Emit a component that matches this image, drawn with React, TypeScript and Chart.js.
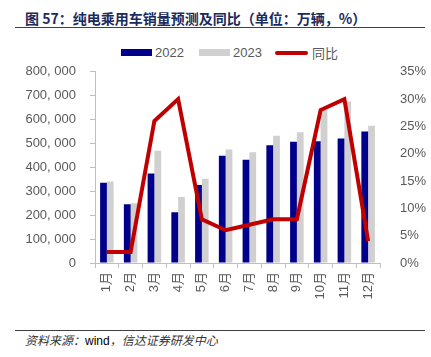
import React, { useEffect, useRef } from "react";
import { Chart, registerables } from "chart.js";

Chart.register(...registerables);

const months = ["1月", "2月", "3月", "4月", "5月", "6月", "7月", "8月", "9月", "10月", "11月", "12月"];
const sales2022 = [336000, 246000, 374000, 212000, 326000, 449000, 432000, 493000, 507000, 509000, 521000, 550000];
const sales2023 = [341000, 250000, 470000, 276000, 353000, 475000, 463000, 532000, 547000, 642000, 676000, 574000];
const yoy = [2, 2, 26, 30, 8, 6, 7, 8, 8, 28, 30, 4];

const titleText = "图 57：纯电乘用车销量预测及同比（单位：万辆，%）";
const sourcePrefix = "资料来源：";
const sourceWind = "wind";
const sourceSuffix = "，信达证券研发中心";

const BLUE = "#00008b";
const GRAY = "#d0d0d0";
const RED = "#c00000";
const LABEL = "#595959";
const AXIS = "#bfbfbf";
const FONT = 'Liberation Sans, Arial, "Noto Sans CJK SC", sans-serif';

function fmtThousands(v: number): string {
  if (v === 0) return "0";
  const th = Math.floor(v / 1000);
  const rest = String(Math.round(v % 1000)).padStart(3, "0");
  return `${th}, ${rest}`;
}

export default function App() {
  const ref = useRef<HTMLCanvasElement | null>(null);

  useEffect(() => {
    document.body.style.margin = "0";
    if (!ref.current) return;
    const chart = new Chart(ref.current, {
      type: "bar",
      data: {
        labels: months,
        datasets: [
          {
            type: "line",
            label: "同比",
            data: yoy,
            yAxisID: "y1",
            borderColor: RED,
            backgroundColor: RED,
            borderWidth: 4,
            pointRadius: 0,
            tension: 0,
            order: 0,
          } as any,
          {
            type: "bar",
            label: "2022",
            data: sales2022,
            yAxisID: "y",
            backgroundColor: BLUE,
            categoryPercentage: 0.57,
            barPercentage: 1,
            order: 1,
          },
          {
            type: "bar",
            label: "2023",
            data: sales2023,
            yAxisID: "y",
            backgroundColor: GRAY,
            categoryPercentage: 0.57,
            barPercentage: 1,
            order: 1,
          },
        ],
      },
      options: {
        animation: false,
        responsive: false,
        maintainAspectRatio: false,
        layout: { padding: { top: 11, left: 0, right: 0, bottom: 0 } },
        plugins: {
          legend: { display: false },
          tooltip: { enabled: false },
        },
        scales: {
          x: {
            offset: true,
            grid: {
              offset: true,
              drawOnChartArea: false,
              drawTicks: true,
              tickLength: 5,
              color: AXIS,
            },
            border: { display: true, color: AXIS },
            ticks: {
              minRotation: 90,
              maxRotation: 90,
              padding: 4,
              color: LABEL,
              font: { family: FONT, size: 13 },
              autoSkip: false,
            },
            afterFit: (scale: any) => {
              scale.height = 47;
            },
          },
          y: {
            position: "left",
            min: 0,
            max: 800000,
            ticks: {
              stepSize: 100000,
              padding: 14,
              color: LABEL,
              font: { family: FONT, size: 13 },
              callback: (v: any) => fmtThousands(Number(v)),
            },
            grid: {
              drawOnChartArea: false,
              drawTicks: true,
              tickLength: 5,
              color: AXIS,
            },
            border: { display: true, color: AXIS },
            afterFit: (scale: any) => {
              scale.width = 95;
            },
          },
          y1: {
            position: "right",
            min: 0,
            max: 35,
            ticks: {
              stepSize: 5,
              padding: 12,
              color: LABEL,
              font: { family: FONT, size: 13 },
              callback: (v: any) => `${v}%`,
            },
            grid: { display: false },
            border: { display: false },
            afterFit: (scale: any) => {
              scale.width = 51;
            },
          },
        },
      },
    });
    return () => chart.destroy();
  }, []);

  const legendText: React.CSSProperties = {
    position: "absolute",
    top: 46,
    height: 14,
    lineHeight: "14px",
    fontSize: 13,
    fontFamily: FONT,
    color: LABEL,
    whiteSpace: "nowrap",
  };

  return (
    <div
      style={{
        position: "absolute",
        left: 0,
        top: 0,
        width: 431,
        height: 357,
        background: "#ffffff",
        overflow: "hidden",
      }}
    >
      <div
        style={{
          position: "absolute",
          left: 25,
          top: 10,
          height: 16,
          lineHeight: "16px",
          fontSize: 14,
          fontWeight: "bold",
          fontFamily: '"Noto Sans CJK SC", sans-serif',
          color: "#1a2b5c",
          whiteSpace: "nowrap",
        }}
      >
        {titleText}
      </div>
      <div style={{ position: "absolute", left: 15, top: 27, width: 410, height: 1, background: "#404040" }} />

      <div style={{ position: "absolute", left: 121, top: 49, width: 31, height: 7, background: BLUE }} />
      <div style={{ ...legendText, left: 155 }}>2022</div>
      <div style={{ position: "absolute", left: 199, top: 49, width: 31, height: 7, background: GRAY }} />
      <div style={{ ...legendText, left: 233 }}>2023</div>
      <div style={{ position: "absolute", left: 275, top: 51, width: 33, height: 4, borderRadius: 2, background: RED }} />
      <div style={{ ...legendText, left: 312, fontFamily: '"Noto Sans CJK SC", sans-serif' }}>同比</div>

      <canvas
        ref={ref}
        width={431}
        height={260}
        style={{ position: "absolute", left: 0, top: 50, width: 431, height: 260 }}
      />

      <div style={{ position: "absolute", left: 15, top: 330, width: 410, height: 1, background: "#404040" }} />
      <div
        style={{
          position: "absolute",
          left: 25,
          top: 333,
          height: 13,
          lineHeight: "13px",
          fontSize: 12,
          fontStyle: "italic",
          fontFamily: '"Noto Sans CJK SC", sans-serif',
          color: "#333333",
          whiteSpace: "nowrap",
        }}
      >
        {sourcePrefix}
        <span style={{ fontStyle: "normal", fontFamily: FONT, color: "#000000" }}>{sourceWind}</span>
        {sourceSuffix}
      </div>
    </div>
  );
}
